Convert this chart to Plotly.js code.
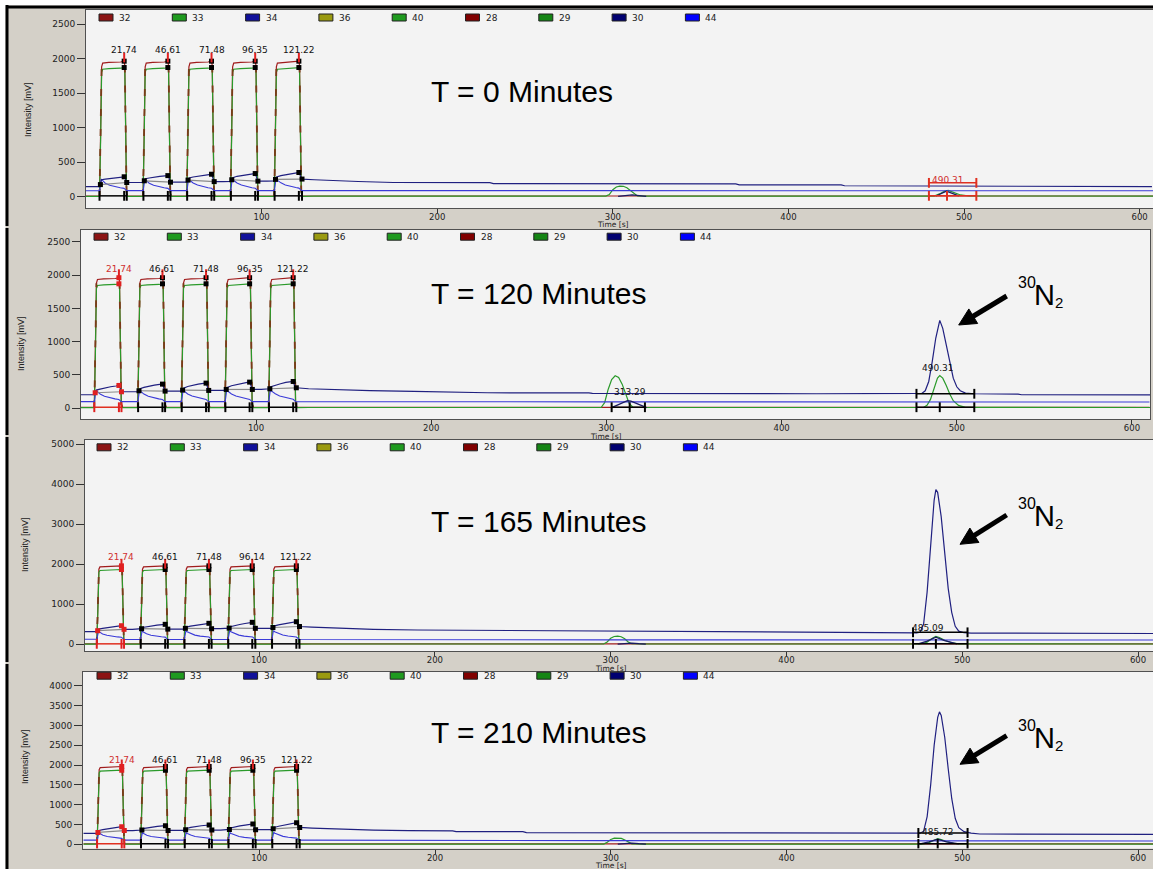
<!DOCTYPE html>
<html><head><meta charset="utf-8">
<script src="https://cdn.plot.ly/plotly-3.0.1.min.js"></script>
<style>html,body{margin:0;padding:0;background:#d4d0c8;}#chart{width:1153px;height:869px;}</style>
</head><body><div id="chart"></div>
<script>
// ================= DATA =================
const legendChannels = ["32","33","34","36","40","28","29","30","44"];
const panelTitles = ["T = 0 Minutes","T = 120 Minutes","T = 165 Minutes","T = 210 Minutes"];
const pulseLabels_p1 = ["21.74","46.61","71.48","96.35","121.22"];
const pulseLabels_p2 = ["21.74","46.61","71.48","96.35","121.22"];
const pulseLabels_p3 = ["21.74","46.61","71.48","96.14","121.22"];
const pulseLabels_p4 = ["21.74","46.61","71.48","96.35","121.22"];
const pulseStart = [8.2, 33.2, 58.1, 83.0, 107.9];
const pulseEnd   = [21.74, 46.61, 71.48, 96.35, 121.22];
const pulseEnd_p3 = [21.74, 46.61, 71.48, 96.14, 121.22];
const pulseAfter = [23.2, 48.1, 73.0, 97.9, 123.0];
const xTickVals = [100, 200, 300, 400, 500, 600];

// channel 28 (reference pulses, red)
const t28 = [0, 7.7, 8.3, 8.9, 9.5, 13, 19.7, 21.74, 22.1, 22.6, 23.1, 23.7,
  32.5, 33.1, 33.7, 34.3, 38, 44.6, 46.61, 47.0, 47.5, 48.0, 48.6,
  57.4, 58.0, 58.6, 59.2, 63, 69.5, 71.48, 71.9, 72.4, 72.9, 73.5,
  82.3, 82.9, 83.5, 84.1, 88, 94.4, 96.35, 96.8, 97.3, 97.8, 98.4,
  107.2, 107.8, 108.4, 109.0, 113, 119.2, 121.22, 121.6, 122.1, 122.6, 123.2,
  610];
const v28 = [10, 10, 900, 1880, 1935, 1945, 1950, 1962, 1900, 1000, 60, 10,
  10, 900, 1880, 1935, 1945, 1950, 1962, 1900, 1000, 60, 10,
  10, 900, 1880, 1935, 1945, 1950, 1962, 1900, 1000, 60, 10,
  10, 900, 1880, 1935, 1945, 1950, 1962, 1900, 1000, 60, 10,
  10, 900, 1880, 1935, 1945, 1950, 1962, 1900, 1000, 60, 10,
  10];

// channel 29 (green) – pulse part shared, tail per panel
const t29pulse = [0, 7.7, 8.3, 8.9, 9.5, 13, 19.7, 21.74, 22.1, 22.6, 23.1, 23.7,
  32.5, 33.1, 33.7, 34.3, 38, 44.6, 46.61, 47.0, 47.5, 48.0, 48.6,
  57.4, 58.0, 58.6, 59.2, 63, 69.5, 71.48, 71.9, 72.4, 72.9, 73.5,
  82.3, 82.9, 83.5, 84.1, 88, 94.4, 96.35, 96.8, 97.3, 97.8, 98.4,
  107.2, 107.8, 108.4, 109.0, 113, 119.2, 121.22, 121.6, 122.1, 122.6, 123.2];
const v29pulse = [5, 5, 800, 1800, 1845, 1855, 1860, 1870, 1820, 950, 50, 5,
  5, 800, 1800, 1845, 1855, 1860, 1870, 1820, 950, 50, 5,
  5, 800, 1800, 1845, 1855, 1860, 1870, 1820, 950, 50, 5,
  5, 800, 1800, 1845, 1855, 1860, 1870, 1820, 950, 50, 5,
  5, 800, 1800, 1845, 1855, 1860, 1870, 1820, 950, 50, 5];
const t29tail_p1 = [130, 296, 298, 300, 302, 304, 306, 308, 310, 312, 314, 320, 483, 486, 489, 491, 494, 498, 503, 610];
const v29tail_p1 = [8, 8, 30, 100, 140, 152, 150, 130, 90, 40, 12, 8, 8, 40, 80, 90, 60, 25, 10, 8];
const t29tail_p2 = [130, 297, 299, 301, 303, 305, 307, 309, 311, 313, 315, 320, 481, 483, 485, 487, 489, 490.3, 492, 494, 496, 498, 501, 505, 611];
const v29tail_p2 = [8, 8, 80, 280, 430, 485, 460, 360, 200, 70, 15, 8, 8, 40, 130, 300, 450, 490, 450, 340, 210, 110, 40, 10, 8];
const t29tail_p3 = [130, 296, 298, 300, 302, 304, 306, 308, 310, 312, 318, 476, 480, 483, 485, 487, 490, 494, 498, 610];
const v29tail_p3 = [8, 8, 60, 150, 195, 205, 190, 140, 60, 15, 8, 8, 50, 150, 200, 170, 100, 40, 12, 8];
const t29tail_p4 = [130, 296, 298, 300, 302, 304, 306, 308, 310, 312, 318, 477, 481, 484, 486, 488, 491, 495, 499, 610];
const v29tail_p4 = [5, 5, 50, 120, 155, 160, 150, 110, 50, 12, 5, 5, 40, 110, 140, 120, 70, 25, 8, 5];

// channel 30 (navy)
const t30pulses = [0, 7.6, 8.2, 8.8, 11, 14, 17, 20, 21.7, 22.4, 23.2, 28, 32.6,
  33.2, 33.8, 36, 39, 42, 45, 46.6, 47.3, 48.1, 53, 57.5,
  58.1, 58.7, 61, 64, 67, 70, 71.5, 72.2, 73, 78, 82.4,
  83.0, 83.6, 86, 89, 92, 95, 96.4, 97.1, 97.9, 103, 107.3];
const t30pulses_p3 = [0, 7.6, 8.2, 8.8, 11, 14, 17, 20, 21.7, 22.4, 23.2, 28, 32.6,
  33.2, 33.8, 36, 39, 42, 45, 46.6, 47.3, 48.1, 53, 57.5,
  58.1, 58.7, 61, 64, 67, 70, 71.5, 72.2, 73, 78, 82.4,
  83.0, 83.6, 86, 89, 92, 95, 96.1, 96.9, 97.8, 103, 107.3];
const t30tail_p1 = [107.9, 108.5, 111, 114, 117, 120, 121.2, 122, 123, 130, 140, 155, 175, 230, 232, 370, 372, 430, 432, 545, 547, 607];
const v30_p1 = [145, 145, 175, 245, 255, 265, 275, 282, 288, 260, 205, 205, 205,
  230, 260, 270, 285, 295, 302, 305, 270, 210, 212, 212,
  240, 270, 285, 300, 312, 320, 325, 280, 218, 218, 220,
  245, 275, 295, 310, 322, 330, 335, 290, 225, 225, 228,
  250, 285, 305, 322, 335, 345, 350, 300, 255, 245, 232, 220, 205, 203, 188, 186, 172, 170, 158, 156, 147, 145];
const t30tail_p2 = [107.9, 108.5, 111, 114, 117, 120, 121.2, 122, 123, 130, 145, 165, 190, 230, 232, 290, 292, 420, 460, 478,
  480, 482, 484, 486, 488, 490.3, 492, 494, 496, 498, 500, 502, 505, 510, 535, 537, 611];
const v30_p2 = [200, 200, 230, 270, 285, 305, 320, 332, 340, 300, 245, 245, 245,
  260, 290, 310, 330, 345, 355, 360, 310, 255, 255, 255,
  270, 300, 325, 345, 360, 370, 375, 325, 265, 265, 265,
  280, 310, 335, 355, 372, 385, 390, 340, 280, 280, 280,
  290, 320, 345, 365, 385, 395, 400, 340, 305, 290, 275, 262, 250, 240, 230, 228, 220, 215, 212, 210,
  220, 260, 400, 700, 1050, 1320, 1200, 950, 680, 450, 320, 260, 225, 215, 210, 200, 198];
const t30tail_p3 = [107.9, 108.5, 111, 114, 117, 120, 121.2, 122, 123, 130, 145, 165, 190, 220, 250, 252, 300, 355, 357, 410, 470, 474,
  476, 478, 480, 482, 484, 485, 486, 488, 490, 492, 494, 496, 498, 501, 505, 530, 532, 610];
const v30_p3 = [315, 315, 340, 380, 400, 420, 440, 455, 465, 420, 375, 375, 375,
  390, 420, 440, 462, 480, 493, 500, 440, 380, 380, 380,
  400, 430, 455, 480, 500, 515, 525, 460, 390, 390, 390,
  405, 440, 470, 495, 520, 540, 550, 470, 400, 400, 400,
  420, 455, 485, 510, 535, 555, 565, 480, 445, 430, 400, 375, 358, 350, 345, 335, 322, 318, 308, 305, 290, 288,
  300, 500, 1300, 2500, 3600, 3870, 3800, 3200, 2300, 1400, 800, 450, 330, 290, 282, 280, 272, 270];
const t30tail_p4 = [107.9, 108.5, 111, 114, 117, 120, 121.2, 122, 123, 130, 145, 165, 185, 210, 212, 250, 252, 350, 352, 470, 476,
  478, 480, 482, 484, 486, 487, 488, 490, 492, 494, 496, 498, 501, 505, 510, 610];
const v30_p4 = [277, 277, 300, 350, 370, 395, 415, 435, 444, 400, 345, 345, 345,
  360, 395, 415, 435, 452, 465, 470, 415, 350, 350, 350,
  370, 400, 425, 450, 468, 480, 487, 430, 360, 360, 360,
  375, 410, 440, 465, 485, 505, 512, 440, 370, 370, 370,
  390, 425, 455, 485, 510, 535, 545, 460, 425, 410, 385, 360, 344, 340, 320, 318, 296, 294, 280, 277, 280,
  330, 700, 1500, 2500, 3200, 3340, 3250, 2700, 1900, 1150, 650, 420, 320, 280, 260, 252];

// navy level at pulse start / end / after (integration marks)
const navyStart_p1 = [175, 230, 240, 245, 250], navyEnd_p1 = [288, 305, 325, 335, 350], navyAfter_p1 = [205, 210, 218, 225, 255];
const navyStart_p2 = [230, 260, 270, 280, 290], navyEnd_p2 = [340, 360, 375, 390, 400], navyAfter_p2 = [245, 255, 265, 280, 305];
const navyStart_p3 = [340, 390, 400, 405, 420], navyEnd_p3 = [465, 500, 525, 550, 565], navyAfter_p3 = [375, 380, 390, 400, 445];
const navyStart_p4 = [300, 360, 370, 375, 390], navyEnd_p4 = [444, 470, 487, 512, 545], navyAfter_p4 = [345, 350, 360, 370, 425];

// channel 44 (blue)
const t44 = [0, 7.8, 8.2, 8.7, 9.4, 11, 13.5, 16.5, 19.5, 21.7, 22.4, 23.2,
  32.6, 33.0, 33.5, 34.2, 36, 38.5, 41.5, 44.5, 46.6, 47.3, 48.1,
  57.5, 57.9, 58.4, 59.1, 61, 63.5, 66.5, 69.5, 71.5, 72.2, 73,
  82.4, 82.8, 83.3, 84, 86, 88.5, 91.5, 94.5, 96.4, 97.1, 97.9,
  107.3, 107.7, 108.2, 108.9, 111, 113.5, 116.5, 119.5, 121.2, 122, 122.8,
  300, 450, 610];
const v44_p1 = [85, 85, 170, 255, 235, 195, 165, 143, 128, 120, 100, 88,
  88, 170, 255, 235, 195, 165, 143, 128, 120, 100, 88,
  88, 170, 258, 238, 198, 168, 145, 130, 122, 102, 88,
  88, 170, 258, 238, 198, 168, 145, 130, 122, 102, 88,
  88, 170, 260, 240, 200, 170, 147, 132, 124, 104, 88,
  87, 86, 85];
const v44_p2 = [97, 97, 180, 270, 250, 210, 178, 155, 138, 128, 110, 97,
  97, 180, 270, 250, 210, 178, 155, 138, 128, 110, 97,
  97, 180, 272, 252, 212, 180, 157, 140, 130, 112, 97,
  97, 180, 272, 252, 212, 180, 157, 140, 130, 112, 97,
  97, 180, 275, 255, 215, 182, 160, 142, 132, 114, 97,
  93, 91, 90];
const v44_p3 = [125, 125, 220, 330, 305, 260, 225, 200, 185, 178, 150, 122,
  122, 220, 335, 310, 265, 228, 202, 188, 180, 152, 122,
  122, 222, 340, 312, 268, 230, 205, 190, 182, 155, 122,
  122, 222, 340, 312, 268, 230, 205, 190, 182, 155, 122,
  122, 225, 345, 315, 270, 232, 207, 192, 184, 157, 122,
  112, 108, 107];
const v44_p4 = [105, 105, 190, 290, 270, 228, 195, 172, 158, 150, 125, 105,
  105, 190, 292, 272, 230, 197, 174, 160, 152, 127, 105,
  105, 192, 295, 275, 232, 198, 175, 161, 153, 128, 105,
  105, 192, 295, 275, 232, 198, 175, 161, 153, 128, 105,
  105, 195, 298, 278, 235, 200, 177, 163, 155, 130, 105,
  92, 88, 85];

// channel 34 (small dark humps)
const t34_p1 = [303, 307, 311, 315, 319, null, 484, 490, 497];
const v34_p1 = [5, 20, 25, 15, 5, null, 10, 80, 10];
const t34_p2 = [303, 306, 309, 312, 314, 317, 320, 323];
const v34_p2 = [5, 40, 85, 110, 105, 70, 30, 5];
const t34_p3 = [304, 308, 312, 316, 320, null, 475, 480, 485, 490, 497];
const v34_p3 = [5, 25, 30, 15, 5, null, 10, 80, 180, 90, 10];
const t34_p4 = [304, 308, 312, 316, 320, null, 476, 481, 486, 491, 498];
const v34_p4 = [5, 25, 30, 15, 5, null, 10, 60, 130, 60, 10];

// integration windows for the sample peaks [start, apex, end], baseline level
const peakWin_p1 = [[480, 490.3, 507]], peakTop_p1 = [200];
const peakWin_p2 = [[477, 490.3, 510], [303, 313.3, 322]], peakTop_p2 = [215, null];
const peakWin_p3 = [[472, 485, 503]], peakTop_p3 = [300];
const peakWin_p4 = [[475, 486, 503]], peakTop_p4 = [285];

// peak labels of sample peaks [time, intensity, text]
const peakLabels_p1 = [[490.7, 237, "490.31"]];
const peakLabels_p2 = [[313.4, 240, "313.29"], [489.5, 601, "490.31"]];
const peakLabels_p3 = [[480.5, 400, "485.09"]];
const peakLabels_p4 = [[486.4, 318, "485.72"]];

// ================= LAYOUT GEOMETRY (pixels) =================
const W = 1153, H = 869;
const px = x => x / W, py = y => 1 - y / H;
const geom = [
  {l:86, r:1153, t:10,  b:208, xr:[0, 607.6],   yr:[-164, 2703], yt:[0,500,1000,1500,2000,2500], legX:99, legY:17.5, titleY:92, ylabX:28, ylabY:110, xtitY:225, labY:2124, frame:[5,226]},
  {l:81, r:1150, t:230, b:419, xr:[0.1, 610.3], yr:[-165, 2680], yt:[0,500,1000,1500,2000,2500], legX:94, legY:236.7, titleY:293.5, ylabX:21, ylabY:343, xtitY:436, labY:2089, frame:[228,435], n2Y:295, arrow:[1006.7,296,958.7,325]},
  {l:85, r:1153, t:440, b:651, xr:[1.0, 608.5], yr:[-167, 5108], yt:[0,1000,2000,3000,4000,5000], legX:97, legY:447.3, titleY:521.5, ylabX:25, ylabY:545, xtitY:668, labY:2190, frame:[437,662], n2Y:516, arrow:[1006.7,515,960,544.3]},
  {l:83, r:1153, t:672, b:848.5, xr:[-0.3, 608.5], yr:[-106, 4346], yt:[0,500,1000,1500,2000,2500,3000,3500,4000], legX:97, legY:675.7, titleY:732.5, ylabX:25, ylabY:757, xtitY:865.5, labY:2126, frame:[664,869], n2Y:738, arrow:[1006.7,735.7,960,764.3]}
];
const legendColors = ["#8c1414","#1f9a1f","#10109a","#9a9a10","#1f9a1f","#800000","#158515","#000070","#0000ff"];
const C28 = "#a01c1c", C29 = "#2a9a2a", C30 = "#202080", C44 = "#3a3ad8", C34 = "#1a1a60";

// ================= BUILD =================
const panels = [
  {t29t:t29tail_p1, v29t:v29tail_p1, t30:t30pulses.concat(t30tail_p1), v30:v30_p1, v44:v44_p1, t34:t34_p1, v34:v34_p1, ns:navyStart_p1, ne:navyEnd_p1, na:navyAfter_p1, pe:pulseEnd, pl:pulseLabels_p1, pw:peakWin_p1, ptop:peakTop_p1, plab:peakLabels_p1, firstRed:false, peakRed:true},
  {t29t:t29tail_p2, v29t:v29tail_p2, t30:t30pulses.concat(t30tail_p2), v30:v30_p2, v44:v44_p2, t34:t34_p2, v34:v34_p2, ns:navyStart_p2, ne:navyEnd_p2, na:navyAfter_p2, pe:pulseEnd, pl:pulseLabels_p2, pw:peakWin_p2, ptop:peakTop_p2, plab:peakLabels_p2, firstRed:true, peakRed:false},
  {t29t:t29tail_p3, v29t:v29tail_p3, t30:t30pulses_p3.concat(t30tail_p3), v30:v30_p3, v44:v44_p3, t34:t34_p3, v34:v34_p3, ns:navyStart_p3, ne:navyEnd_p3, na:navyAfter_p3, pe:pulseEnd_p3, pl:pulseLabels_p3, pw:peakWin_p3, ptop:peakTop_p3, plab:peakLabels_p3, firstRed:true, peakRed:false},
  {t29t:t29tail_p4, v29t:v29tail_p4, t30:t30pulses.concat(t30tail_p4), v30:v30_p4, v44:v44_p4, t34:t34_p4, v34:v34_p4, ns:navyStart_p4, ne:navyEnd_p4, na:navyAfter_p4, pe:pulseEnd, pl:pulseLabels_p4, pw:peakWin_p4, ptop:peakTop_p4, plab:peakLabels_p4, firstRed:true, peakRed:false}
];

const traces = [], annotations = [], shapes = [];
const layout = {
  width: W, height: H, autosize: false,
  margin: {l:0, r:0, t:0, b:0, pad:0},
  paper_bgcolor: "#d4d0c8", plot_bgcolor: "#f3f3f3",
  showlegend: false, font: {family: "DejaVu Sans, sans-serif", size: 9, color: "#222"}
};
const tickFont = {family: "DejaVu Sans, sans-serif", size: 9, color: "#222"};
const bigFont = {family: "Liberation Sans, Arial, sans-serif", color: "#000"};

// frame elements
shapes.push({type:"rect", xref:"paper", yref:"paper", x0:0, x1:px(5.5), y0:0, y1:1, fillcolor:"#ffffff", line:{width:0}, layer:"below"});
shapes.push({type:"rect", xref:"paper", yref:"paper", x0:0, x1:1, y0:py(5.5), y1:1, fillcolor:"#ffffff", line:{width:0}, layer:"below"});
shapes.push({type:"rect", xref:"paper", yref:"paper", x0:px(6), x1:1, y0:py(8.5), y1:py(5.5), fillcolor:"#000000", line:{width:0}});

panels.forEach((P, i) => {
  const g = geom[i];
  const s = i === 0 ? "" : String(i + 1);
  const xa = "x" + s, ya = "y" + s;
  layout["xaxis" + s] = {domain:[px(g.l), px(g.r)], range:g.xr, anchor:ya, tickvals:xTickVals, ticks:"outside", ticklen:4, tickcolor:"#333",
    ticklabelstandoff:-3,
    showline:true, linecolor:"#505050", linewidth:1, mirror:true, showgrid:false, zeroline:false, tickfont:{family:"DejaVu Sans, sans-serif", size:8.5, color:"#222"}, fixedrange:true};
  layout["yaxis" + s] = {domain:[py(g.b), py(g.t)], range:g.yr, anchor:xa, tickvals:g.yt, ticks:"outside", ticklen:8, tickcolor:"#333",
    showline:true, linecolor:"#505050", linewidth:1, mirror:true, showgrid:false, zeroline:false, tickfont:tickFont, fixedrange:true};

  const L = (x, y, color, width, extra) => Object.assign({type:"scatter", mode:"lines", x:x, y:y, xaxis:xa, yaxis:ya,
    line:{color:color, width:width}, hoverinfo:"skip", showlegend:false, connectgaps:false}, extra || {});

  // channel traces
  traces.push(L(t28, v28, C28, 1.2));
  traces.push(L(t29pulse.concat(P.t29t), v29pulse.concat(P.v29t), C29, 1.2));
  // dark dashes over the vertical edges of the pulses
  const ex = [], ey = [];
  for (let k = 0; k < 5; k++) {
    const b = 1 + 11 * k;
    [b, b + 1, b + 2].forEach(j => { ex.push(t28[j]); ey.push(v28[j]); }); ex.push(null); ey.push(null);
    [b + 7, b + 8, b + 9, b + 10].forEach(j => { ex.push(t28[j]); ey.push(v28[j]); }); ex.push(null); ey.push(null);
  }
  traces.push(L(ex, ey, "#7a3010", 1.8, {line:{color:"#7a3a18", width:1.8, dash:"7px,13px"}}));
  traces.push(L(t44, P.v44, C44, 1.1));
  traces.push(L(P.t30, P.v30, C30, 1.2));
  traces.push(L(P.t34, P.v34, C34, 1.3));

  // integration baselines under the pulses
  const gx = [], gy = [], bx = [], by = [], rbx = [], rby = [];
  for (let k = 0; k < 5; k++) {
    gx.push(pulseStart[k], pulseAfter[k], null); gy.push(P.ns[k], P.na[k], null);
    const tx = (k === 0 && P.firstRed) ? rbx : bx, ty = (k === 0 && P.firstRed) ? rby : by;
    tx.push(pulseStart[k] - 0.5, pulseAfter[k], null); ty.push(12, 12, null);
  }
  traces.push(L(gx, gy, "#8a8a8a", 1.2));
  const wx = [], wy = [];
  P.pw.forEach((w, j) => {
    wx.push(w[0], w[2], null); wy.push(12, 12, null);
    if (P.ptop[j] !== null) { wx.push(w[0], w[2], null); wy.push(P.ptop[j], P.ptop[j], null); }
  });
  const winColor = P.peakRed ? "#e03020" : "#000000";
  traces.push(L(bx, by, "#000000", 1.5));
  traces.push(L(rbx, rby, "#e03020", 1.5));
  traces.push(L(wx, wy, winColor, 1.5));

  // markers
  const mx = [], my = [], mc = [];
  const tx = [], ty = [], tc = [];
  for (let k = 0; k < 5; k++) {
    const c = (k === 0 && P.firstRed) ? "#e02020" : "#000000";
    mx.push(P.pe[k], P.pe[k], P.pe[k], pulseAfter[k], pulseStart[k]);
    my.push(1962, 1870, P.ne[k], P.na[k], P.ns[k]);
    mc.push(c, c, c, c, c);
    tx.push(pulseStart[k] - 0.5, P.pe[k], pulseAfter[k]); ty.push(12, 12, 12); tc.push(c, c, c);
    tx.push(P.pe[k]); ty.push(2015); tc.push("#e02020");
  }
  P.pw.forEach((w, j) => {
    w.forEach(t => { tx.push(t); ty.push(12); tc.push(winColor); });
    if (P.ptop[j] !== null) { [w[0], w[2]].forEach(t => { tx.push(t); ty.push(P.ptop[j]); tc.push(winColor); }); }
  });
  traces.push({type:"scatter", mode:"markers", x:mx, y:my, xaxis:xa, yaxis:ya, hoverinfo:"skip", showlegend:false,
    marker:{symbol:"square", size:5, color:mc, line:{width:0}}});
  traces.push({type:"scatter", mode:"markers", x:tx, y:ty, xaxis:xa, yaxis:ya, hoverinfo:"skip", showlegend:false,
    marker:{symbol:"line-ns", size:7, line:{width:2, color:tc}}});

  // pulse labels
  P.pl.forEach((txt, k) => {
    annotations.push({xref:xa, yref:ya, x:P.pe[k], y:g.labY, text:txt, showarrow:false, xanchor:"center", yanchor:"middle",
      font:{family:"DejaVu Sans, sans-serif", size:9, color:(k === 0 && P.firstRed) ? "#d03030" : "#111"}});
  });
  P.plab.forEach(pl => {
    annotations.push({xref:xa, yref:ya, x:pl[0], y:pl[1], text:pl[2], showarrow:false, xanchor:"center", yanchor:"middle",
      font:{family:"DejaVu Sans, sans-serif", size:9, color:P.peakRed ? "#d03030" : "#111"}});
  });

  // frame left bar
  shapes.push({type:"rect", xref:"paper", yref:"paper", x0:px(5.5), x1:px(8.5), y0:py(g.frame[1]), y1:py(g.frame[0]), fillcolor:"#000000", line:{width:0}});

  // legend strip
  legendChannels.forEach((ch, k) => {
    const x0 = g.legX + k * 73.3;
    shapes.push({type:"rect", xref:"paper", yref:"paper", x0:px(x0), x1:px(x0 + 14), y0:py(g.legY + 3.5), y1:py(g.legY - 3.5),
      fillcolor:legendColors[k], line:{color:"#202020", width:1}});
    annotations.push({xref:"paper", yref:"paper", x:px(x0 + 18), y:py(g.legY), text:ch, showarrow:false, xanchor:"left", yanchor:"middle",
      font:{family:"DejaVu Sans, sans-serif", size:9, color:"#222"}});
  });

  // axis titles
  annotations.push({xref:"paper", yref:"paper", x:px(g.ylabX), y:py(g.ylabY), text:"Intensity [mV]", textangle:-90, showarrow:false,
    xanchor:"center", yanchor:"middle", font:{family:"Liberation Sans Narrow, Liberation Sans, sans-serif", size:9, color:"#222"}});
  annotations.push({xref:xa, yref:"paper", x:300, y:py(g.xtitY), text:"Time [s]", showarrow:false, xanchor:"center", yanchor:"middle",
    font:{family:"DejaVu Sans, sans-serif", size:7.5, color:"#222"}});

  // big title
  annotations.push({xref:"paper", yref:"paper", x:px(429), y:py(g.titleY), text:panelTitles[i], showarrow:false, xanchor:"left", yanchor:"middle",
    font:Object.assign({size:30}, bigFont)});
  if (g.n2Y) {
    annotations.push({xref:"paper", yref:"paper", x:px(1016), y:py(g.n2Y - 13), text:"30", showarrow:false, xanchor:"left", yanchor:"middle",
      font:Object.assign({size:16}, bigFont)});
    annotations.push({xref:"paper", yref:"paper", x:px(1032), y:py(g.n2Y), text:"N", showarrow:false, xanchor:"left", yanchor:"middle",
      font:Object.assign({size:29}, bigFont)});
    annotations.push({xref:"paper", yref:"paper", x:px(1053), y:py(g.n2Y + 7), text:"2", showarrow:false, xanchor:"left", yanchor:"middle",
      font:Object.assign({size:15}, bigFont)});
    // arrow drawn as shapes (tail -> tip)
    const a = g.arrow;
    const dx = a[2] - a[0], dy = a[3] - a[1], len = Math.hypot(dx, dy);
    const ux = dx / len, uy = dy / len, nx = -uy, ny = ux;
    const hl = 17, hw = 8.5;
    const bxp = a[2] - hl * ux, byp = a[3] - hl * uy;
    shapes.push({type:"line", xref:"paper", yref:"paper", x0:px(a[0]), y0:py(a[1]), x1:px(bxp + 2 * ux), y1:py(byp + 2 * uy), line:{color:"#000", width:5}});
    const c1x = bxp + hw * nx, c1y = byp + hw * ny, c2x = bxp - hw * nx, c2y = byp - hw * ny;
    shapes.push({type:"path", xref:"paper", yref:"paper",
      path:`M ${px(a[2])} ${py(a[3])} L ${px(c1x)} ${py(c1y)} L ${px(c2x)} ${py(c2y)} Z`, fillcolor:"#000", line:{color:"#000", width:1}});
  }
});

layout.annotations = annotations;
layout.shapes = shapes;
Plotly.newPlot("chart", traces, layout, {staticPlot:true, displayModeBar:false});
</script>
</body></html>
